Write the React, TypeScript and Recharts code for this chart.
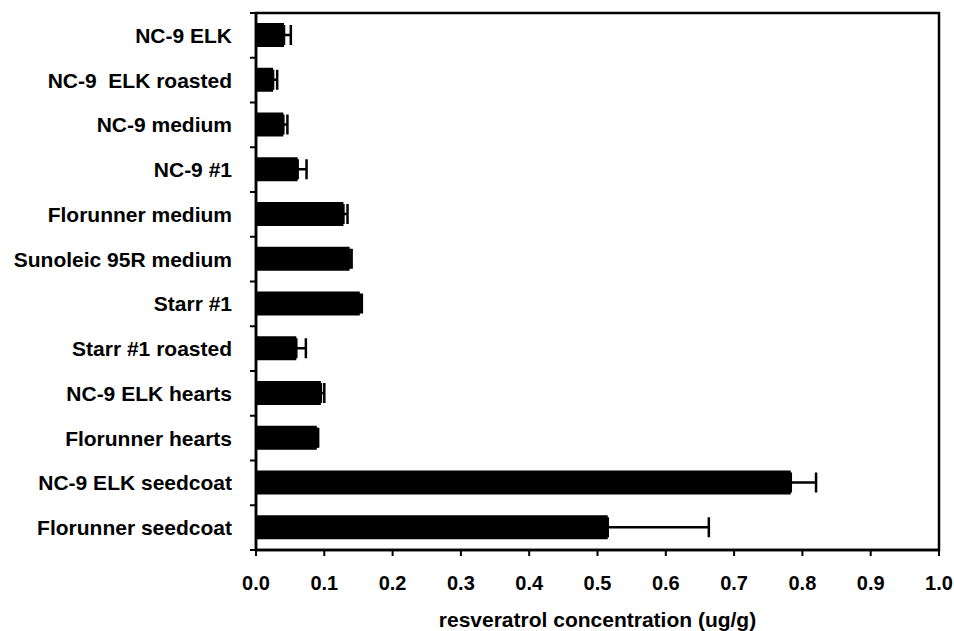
import React from 'react';
import { BarChart, Bar, XAxis, YAxis, ErrorBar, ReferenceArea } from 'recharts';

// sample names, top to bottom
const samples = [
    'NC-9 ELK',
    'NC-9\u00a0 ELK roasted',
    'NC-9 medium',
    'NC-9 #1',
    'Florunner medium',
    'Sunoleic 95R medium',
    'Starr #1',
    'Starr #1 roasted',
    'NC-9 ELK hearts',
    'Florunner hearts',
    'NC-9 ELK seedcoat',
    'Florunner seedcoat',
];

// resveratrol (ug/g)
const concentration = [0.041, 0.025, 0.040, 0.061, 0.128, 0.137, 0.152, 0.059, 0.095, 0.089, 0.783, 0.515];
// upper error only
const stdErr = [0.010, 0.006, 0.006, 0.013, 0.006, 0.003, 0.003, 0.014, 0.005, 0.002, 0.037, 0.148];

const xTicks = [0, 0.1, 0.2, 0.3, 0.4, 0.5, 0.6, 0.7, 0.8, 0.9, 1.0];

const data = samples.map((name, i) => ({
    name,
    value: concentration[i],
    err: [0, stdErr[i]],
}));

const FONT = '"Liberation Sans", Arial, Helvetica, sans-serif';

// category label + tick marks on the band boundaries (not the band centres)
const CategoryTick = (props: any) => {
    const { x, y, payload, index, visibleTicksCount } = props;
    const half = payload?.offset || 0;
    const isLast = index === visibleTicksCount - 1;
    return (
        <g>
            <line x1={x - 6} x2={x} y1={y - half} y2={y - half} stroke="#000" strokeWidth={2} />
            {isLast && <line x1={x - 6} x2={x} y1={y + half} y2={y + half} stroke="#000" strokeWidth={2} />}
            <text
                x={x - 24}
                y={y}
                dy="0.355em"
                textAnchor="end"
                fill="#000"
                fontSize={21}
                fontWeight="bold"
                fontFamily={FONT}
                style={{ whiteSpace: 'pre' }}
            >
                {payload.value}
            </text>
        </g>
    );
};

const App: React.FC = () => {
    return (
        <div style={{ position: 'absolute', left: 0, top: 0, width: 954, height: 631, background: '#fff' }}>
            <BarChart
                width={954}
                height={631}
                data={data}
                layout="vertical"
                margin={{ top: 13, right: 15, left: 0, bottom: 0 }}
                barSize={24}
            >
                <YAxis
                    yAxisId="cat"
                    type="category"
                    dataKey="name"
                    width={256}
                    axisLine={{ stroke: '#000', strokeWidth: 2.5 }}
                    tickLine={false}
                    tickSize={0}
                    tickMargin={0}
                    interval={0}
                    tick={<CategoryTick />}
                />
                <XAxis
                    type="number"
                    domain={[0, 1]}
                    ticks={xTicks}
                    height={81}
                    tickFormatter={(v) => v.toFixed(1)}
                    tickSize={6}
                    tickMargin={20}
                    tickLine={{ stroke: '#000', strokeWidth: 2 }}
                    axisLine={{ stroke: '#000', strokeWidth: 2.5 }}
                    tick={{ fill: '#000', fontSize: 20, fontWeight: 'bold', fontFamily: FONT }}
                    label={{
                        value: 'resveratrol concentration (ug/g)',
                        position: 'insideBottom',
                        offset: 4,
                        fill: '#000',
                        fontSize: 21,
                        fontWeight: 'bold',
                        fontFamily: FONT,
                    }}
                />
                {/* plot frame (top and right edges) */}
                <ReferenceArea
                    yAxisId="cat"
                    x1={0}
                    x2={1}
                    fill="none"
                    stroke="#000"
                    strokeWidth={2.5}
                    ifOverflow="visible"
                />
                <Bar yAxisId="cat" dataKey="value" fill="#000" isAnimationActive={false}>
                    <ErrorBar dataKey="err" direction="x" width={10} stroke="#000" strokeWidth={2.5} isAnimationActive={false} />
                </Bar>
            </BarChart>
        </div>
    );
};

export default App;
